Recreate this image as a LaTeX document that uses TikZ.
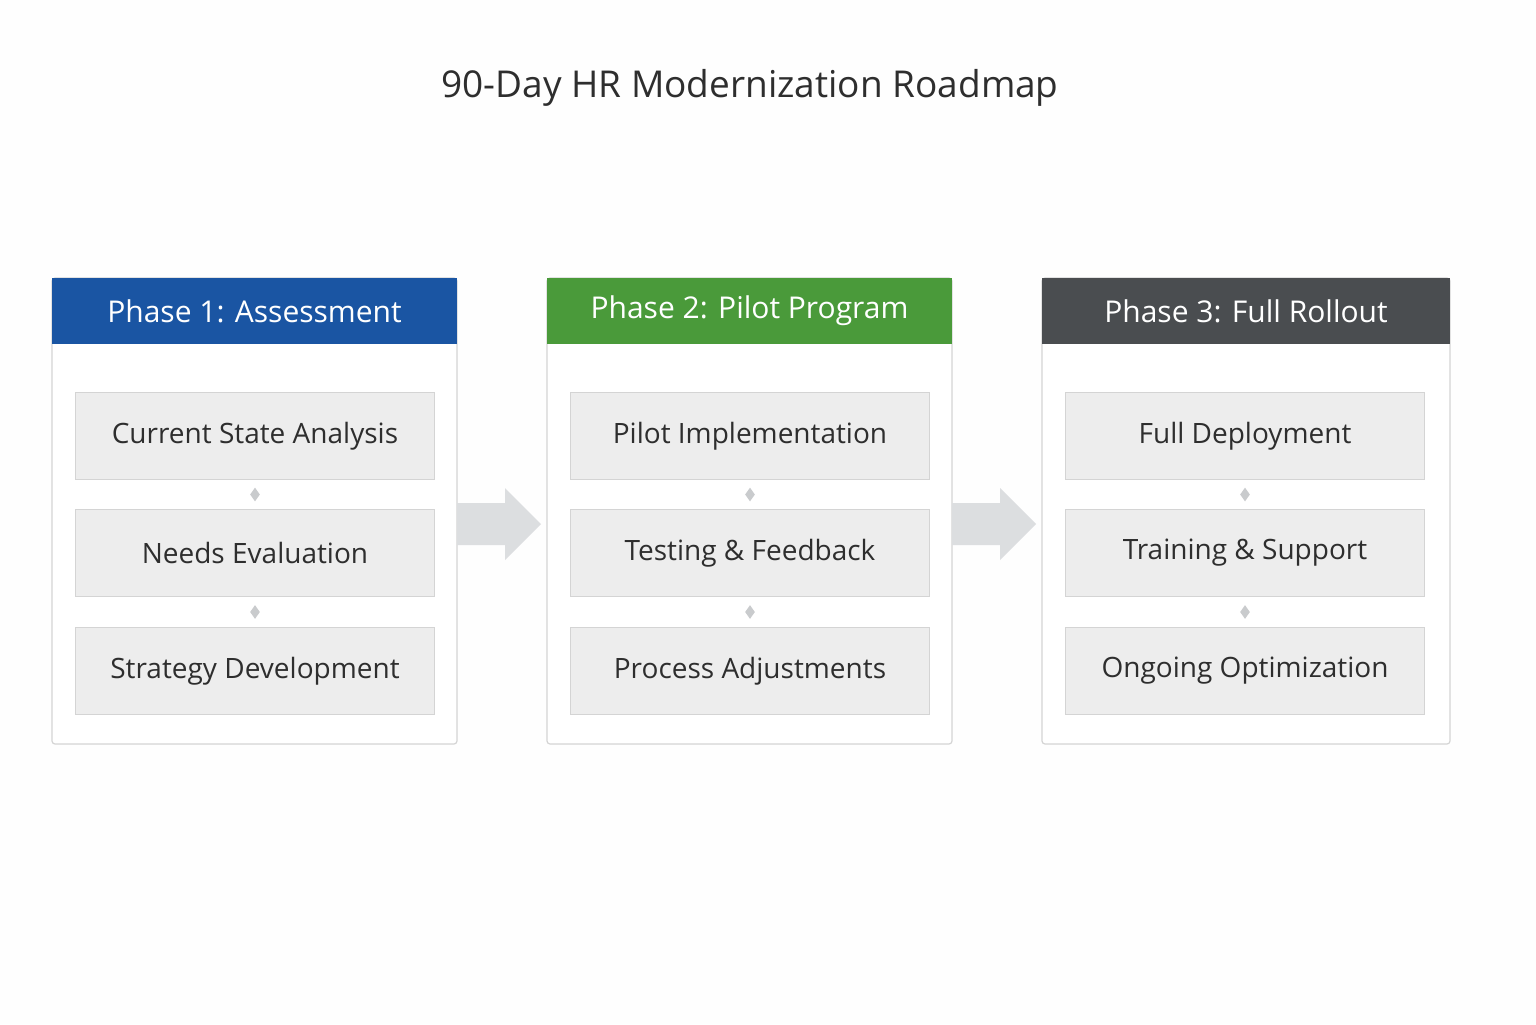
\documentclass[tikz,border=0pt]{standalone}
\usepackage{fontspec}
\setmainfont{Open Sans}
\usetikzlibrary{shapes.geometric,calc}
\definecolor{pblue}{HTML}{1A55A3}
\definecolor{pgreen}{HTML}{4A9A3A}
\definecolor{pgray}{HTML}{4A4D50}
\definecolor{boxfill}{HTML}{EDEDED}
\definecolor{boxline}{HTML}{D4D4D4}
\definecolor{txt}{HTML}{2E2E2E}
\definecolor{arr}{HTML}{DCDEE0}
\tikzset{
 panel/.style={draw=boxline,fill=white,rounded corners=1.5pt,line width=0.6pt},
 hdr/.style={text=white,font=\fontsize{15}{18}\selectfont},
 item/.style={draw=boxline,fill=boxfill,minimum width=179.5pt,minimum height=43.5pt,inner sep=0pt,text=txt,font=\fontsize{14}{17}\selectfont,line width=0.6pt},
 dia/.style={diamond,fill=arr!80!gray,inner sep=0pt,minimum width=5pt,minimum height=7pt},
 bigarrow/.style={fill=arr}
}
\begin{document}
\begin{tikzpicture}[x=0.5pt,y=-0.5pt]
\useasboundingbox[fill=white!99!gray] (0,0) rectangle (1536,1024);
\node[text=txt,font=\fontsize{18.5}{22}\selectfont] (title) at (750,88) {90-Day HR Modernization Roadmap};
\foreach \i/\x/\w/\c/\h/\a/\b/\cc in {
 1/52/405/pblue/{Phase 1: Assessment}/{Current State Analysis}/{Needs Evaluation}/{Strategy Development},
 2/547/405/pgreen/{Phase 2: Pilot Program}/{Pilot Implementation}/{Testing \& Feedback}/{Process Adjustments},
 3/1042/408/pgray/{Phase 3: Full Rollout}/{Full Deployment}/{Training \& Support}/{Ongoing Optimization}}{
 \draw[panel] (\x,278) rectangle ++(\w,466);
 \fill[\c] (\x,278) rectangle ++(\w,66);
 \node[hdr] (h\i) at (\x+\w/2,311) {\h};
 \node[item] (a\i) at (\x+23+180,436) {\a};
 \node[item] (b\i) at (\x+23+180,553) {\b};
 \node[item] (c\i) at (\x+23+180,671) {\cc};
 \node[dia] (d\i) at ($(a\i.south)!0.5!(b\i.north)$) {};
 \node[dia] (e\i) at ($(b\i.south)!0.5!(c\i.north)$) {};
}
\foreach \x in {457,952}{
 \fill[bigarrow] (\x,503) -- (\x+48,503) -- (\x+48,488) -- (\x+84,524) -- (\x+48,560) -- (\x+48,545) -- (\x,545) -- cycle;
}
\end{tikzpicture}
\end{document}
